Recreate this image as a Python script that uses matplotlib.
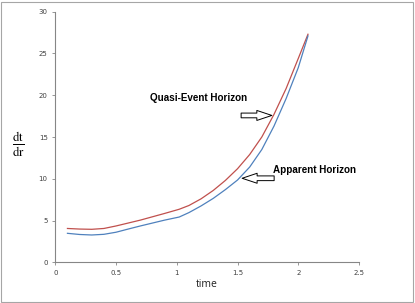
import matplotlib
matplotlib.use("Agg")
import matplotlib.pyplot as plt
from matplotlib.patches import Rectangle

# Data
time_vals = [0.1, 0.2, 0.3, 0.4, 0.5, 0.6, 0.7, 0.8, 0.9, 1.02, 1.1, 1.2, 1.3, 1.4,
             1.5, 1.6, 1.7, 1.8, 1.9, 2.0, 2.08]
quasi_event = [4.05, 3.98, 3.95, 4.05, 4.35, 4.7, 5.05, 5.45, 5.85, 6.35, 6.8, 7.6, 8.6, 9.8,
               11.2, 12.9, 15.0, 17.7, 20.8, 24.4, 27.3]
apparent = [3.47, 3.33, 3.27, 3.35, 3.6, 3.98, 4.35, 4.7, 5.05, 5.42, 5.95, 6.75, 7.65, 8.7,
            9.85, 11.4, 13.5, 16.3, 19.6, 23.3, 27.1]
x_ticks = [0, 0.5, 1, 1.5, 2, 2.5]
x_tick_labels = ["0", "0.5", "1", "1.5", "2", "2.5"]
y_ticks = [0, 5, 10, 15, 20, 25, 30]
label_quasi = "Quasi-Event Horizon"
label_apparent = "Apparent Horizon"

W, H = 415, 303
fig = plt.figure(figsize=(W / 100, H / 100), dpi=100)
fig.patch.set_facecolor("white")
ax = fig.add_axes([55.3 / W, 1 - 262.3 / H, (359 - 55.3) / W, (262.3 - 11.7) / H])

ax.plot(time_vals, quasi_event, color="#C0504D", lw=0.9)
ax.plot(time_vals, apparent, color="#4F81BD", lw=0.9)

ax.set_xlim(0, 2.5)
ax.set_ylim(0, 30)
ax.set_xticks(x_ticks)
ax.set_xticklabels(x_tick_labels)
ax.set_yticks(y_ticks)
for s in ["top", "right"]:
    ax.spines[s].set_visible(False)
for s in ["left", "bottom"]:
    ax.spines[s].set_color("#868686")
    ax.spines[s].set_linewidth(0.8)
ax.tick_params(axis="both", labelsize=5, colors="#868686", labelcolor="#404040",
               length=2.5, width=0.6, pad=3)

ax.set_xlabel("time", fontsize=7.5, family="Open Sans", color="#202020", labelpad=2)

# dt/dr label
fig.text(18 / W, 1 - 145 / H, r"$\frac{\mathrm{dt}}{\mathrm{dr}}$", fontsize=13,
         ha="center", va="center", math_fontfamily="stix")

# Annotations
ax.text((150 - 55.3) / 121.4, (262.3 - 98.5) / 8.35, label_quasi, fontsize=7.1,
        fontweight="bold", family="Liberation Sans", ha="left", va="center")
ax.text((273 - 55.3) / 121.4, (262.3 - 170.5) / 8.35, label_apparent, fontsize=7.1,
        fontweight="bold", family="Liberation Sans", ha="left", va="center")

style = "simple,head_length=1.08,head_width=0.72,tail_width=0.34"
ax.annotate("", xy=((271.7 - 55.3) / 121.4, (262.3 - 115.5) / 8.35),
            xytext=((241 - 55.3) / 121.4, (262.3 - 115.5) / 8.35),
            arrowprops=dict(arrowstyle=style, fc="white", ec="black", lw=0.7,
                            shrinkA=0, shrinkB=0, mutation_scale=10))
ax.annotate("", xy=((242 - 55.3) / 121.4, (262.3 - 178.3) / 8.35),
            xytext=((274 - 55.3) / 121.4, (262.3 - 178.3) / 8.35),
            arrowprops=dict(arrowstyle=style, fc="white", ec="black", lw=0.7,
                            shrinkA=0, shrinkB=0, mutation_scale=10))

# Figure border
fig.patches.append(Rectangle((1 / W, 1 / H), (W - 3) / W, (H - 3) / H,
                             transform=fig.transFigure, fill=False,
                             edgecolor="#a6a6a6", lw=0.8))

fig.savefig("out.png", dpi=100)
